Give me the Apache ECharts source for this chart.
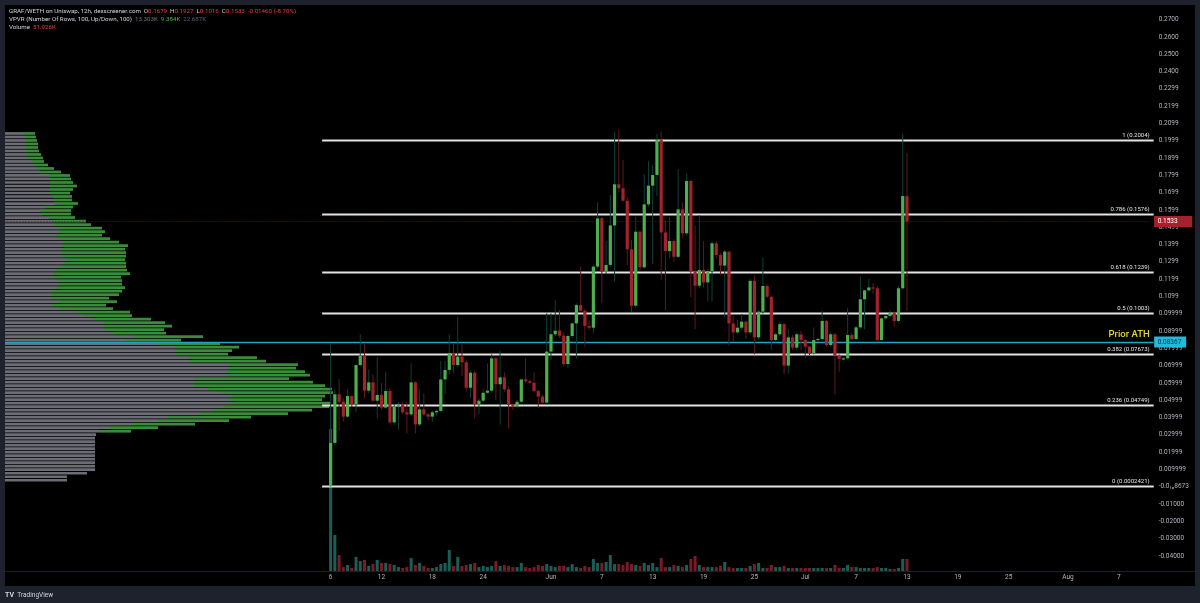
<!DOCTYPE html>
<html><head><meta charset="utf-8">
<script src="https://cdn.jsdelivr.net/npm/echarts@6/dist/echarts.min.js"></script>
<style>html,body{margin:0;padding:0;background:#1e222d;}#c{width:1200px;height:603px;}</style>
</head><body><div id="c"></div><script>
// ---- data ----
// candles (12h) starting 2024-05-06 00:00 : [open, high, low, close]
const candles = [
[0.0002,0.0829,0.0002,0.0253],[0.0253,0.0560,0.0240,0.0534],[0.0534,0.0622,0.0322,0.0491],[0.0491,0.0510,0.0376,0.0405],
[0.0405,0.0563,0.0400,0.0524],[0.0524,0.0530,0.0460,0.0476],[0.0476,0.0710,0.0430,0.0703],[0.0703,0.0881,0.0695,0.0757],
[0.0757,0.0829,0.0511,0.0555],[0.0555,0.0678,0.0540,0.0603],[0.0603,0.0650,0.0490,0.0497],[0.0497,0.0748,0.0395,0.0530],
[0.0530,0.0600,0.0445,0.0457],[0.0457,0.0665,0.0450,0.0553],[0.0553,0.0570,0.0360,0.0372],[0.0372,0.0480,0.0360,0.0463],
[0.0463,0.0490,0.0330,0.0476],[0.0476,0.0490,0.0420,0.0430],[0.0430,0.0490,0.0308,0.0418],[0.0418,0.0713,0.0410,0.0603],
[0.0603,0.0610,0.0308,0.0360],[0.0360,0.0565,0.0350,0.0447],[0.0447,0.0540,0.0410,0.0418],[0.0418,0.0425,0.0385,0.0405],
[0.0405,0.0440,0.0376,0.0430],[0.0430,0.0445,0.0410,0.0438],[0.0438,0.0727,0.0430,0.0620],[0.0620,0.0727,0.0535,0.0675],
[0.0675,0.0881,0.0650,0.0773],[0.0773,0.0829,0.0655,0.0703],[0.0703,0.0983,0.0690,0.0752],[0.0752,0.0829,0.0640,0.0719],
[0.0719,0.0730,0.0550,0.0572],[0.0572,0.0670,0.0511,0.0659],[0.0659,0.0670,0.0395,0.0476],[0.0476,0.0511,0.0420,0.0497],
[0.0497,0.0565,0.0490,0.0543],[0.0543,0.0713,0.0535,0.0555],[0.0555,0.0765,0.0545,0.0742],[0.0742,0.0750,0.0501,0.0592],
[0.0592,0.0784,0.0360,0.0632],[0.0632,0.0661,0.0550,0.0563],[0.0563,0.0580,0.0337,0.0472],[0.0476,0.0480,0.0445,0.0466],
[0.0466,0.0500,0.0455,0.0491],[0.0491,0.0625,0.0485,0.0620],[0.0620,0.0742,0.0600,0.0610],[0.0610,0.0620,0.0595,0.0601],
[0.0601,0.0661,0.0545,0.0553],[0.0553,0.0560,0.0453,0.0521],[0.0521,0.0530,0.0480,0.0486],[0.0486,0.1002,0.0480,0.0781],
[0.0781,0.1002,0.0733,0.0881],[0.0881,0.1079,0.0870,0.0902],[0.0902,0.1021,0.0860,0.0873],[0.0873,0.0890,0.0695,0.0709],
[0.0709,0.0881,0.0685,0.0871],[0.0871,0.0950,0.0860,0.0944],[0.0944,0.1060,0.0742,0.1050],[0.1050,0.1272,0.1040,0.1017],
[0.1017,0.1030,0.0809,0.0929],[0.0929,0.0960,0.0905,0.0919],[0.0919,0.1280,0.0886,0.1272],[0.1272,0.1644,0.1260,0.1551],
[0.1551,0.1560,0.1060,0.1243],[0.1243,0.1420,0.1230,0.1282],[0.1282,0.1686,0.1270,0.1510],[0.1510,0.2052,0.1185,0.1748],
[0.1748,0.2062,0.1700,0.1725],[0.1725,0.1890,0.1650,0.1653],[0.1653,0.1670,0.1280,0.1372],[0.1372,0.1426,0.1010,0.1046],
[0.1046,0.1560,0.1030,0.1474],[0.1474,0.1480,0.1250,0.1268],[0.1268,0.1806,0.1260,0.1632],[0.1632,0.1883,0.1620,0.1740],
[0.1740,0.1860,0.1287,0.1802],[0.1802,0.2040,0.1680,0.2004],[0.2004,0.2052,0.1195,0.1470],[0.1470,0.1540,0.1021,0.1362],
[0.1362,0.1560,0.1323,0.1420],[0.1420,0.1430,0.1300,0.1329],[0.1329,0.1836,0.1320,0.1603],[0.1603,0.1644,0.1440,0.1465],
[0.1465,0.1811,0.1450,0.1767],[0.1767,0.1775,0.1095,0.1243],[0.1243,0.1510,0.0911,0.1162],[0.1162,0.1570,0.1150,0.1253],
[0.1253,0.1420,0.1150,0.1181],[0.1181,0.1260,0.1070,0.1247],[0.1247,0.1420,0.1070,0.1407],[0.1407,0.1420,0.1320,0.1339],
[0.1339,0.1350,0.1225,0.1278],[0.1278,0.1370,0.0977,0.1359],[0.1359,0.1365,0.0815,0.0944],[0.0944,0.0985,0.0840,0.0892],
[0.0892,0.0965,0.0880,0.0919],[0.0919,0.0998,0.0905,0.0954],[0.0954,0.0960,0.0855,0.0892],[0.0892,0.1200,0.0880,0.1190],
[0.1190,0.1223,0.0765,0.0863],[0.0863,0.1020,0.0850,0.1012],[0.1012,0.1324,0.1000,0.1160],[0.1160,0.1170,0.1090,0.1098],
[0.1098,0.1105,0.0790,0.0848],[0.0848,0.0890,0.0835,0.0881],[0.0881,0.0955,0.0870,0.0940],[0.0940,0.0945,0.0650,0.0700],
[0.0700,0.0910,0.0655,0.0863],[0.0863,0.0877,0.0790,0.0804],[0.0804,0.0890,0.0790,0.0881],[0.0881,0.0900,0.0790,0.0848],
[0.0848,0.0855,0.0742,0.0810],[0.0810,0.0815,0.0760,0.0771],[0.0771,0.0920,0.0765,0.0848],[0.0848,0.0860,0.0840,0.0854],
[0.0854,0.1016,0.0845,0.0958],[0.0958,0.0965,0.0810,0.0819],[0.0819,0.0890,0.0810,0.0881],[0.0881,0.0890,0.0534,0.0757],
[0.0757,0.0765,0.0665,0.0738],[0.0738,0.0750,0.0730,0.0742],[0.0742,0.1035,0.0735,0.0877],[0.0877,0.0890,0.0845,0.0854],
[0.0854,0.0930,0.0845,0.0921],[0.0921,0.1214,0.0910,0.1083],[0.1083,0.1140,0.0910,0.1135],[0.1135,0.1200,0.1125,0.1152],
[0.1152,0.1175,0.1115,0.1147],[0.1147,0.1160,0.0840,0.0848],[0.0848,0.0980,0.0840,0.0973],[0.0973,0.0990,0.0965,0.0987],
[0.0987,0.1022,0.0980,0.1006],[0.1006,0.1012,0.0925,0.0958],[0.0958,0.1160,0.0950,0.1147],[0.1147,0.2042,0.1140,0.1680],
[0.1679,0.1927,0.1016,0.1533]
];
// volume per candle (K)
const volumes = [615,156,69,17,26,13,61,43,48,22,30,48,35,35,30,26,17,13,17,56,26,35,22,13,13,17,30,35,91,22,61,22,26,30,35,17,22,17,22,43,22,26,22,17,17,35,17,13,17,26,22,30,22,17,22,22,17,30,17,13,22,17,52,35,35,39,69,30,30,26,39,30,26,22,35,26,35,17,56,17,17,26,22,17,26,52,65,26,17,17,17,17,22,39,17,13,13,13,13,22,30,35,13,13,26,17,17,22,13,13,13,13,13,13,13,13,13,13,13,26,13,13,26,17,17,13,13,13,13,17,13,13,9,9,13,52,52];
// VPVR rows, top (0.205) to bottom (0.003)
const vpDown = [18,20,21,21,21,21,22,23,27,30,32,35,44,45,45,45,45,45,48,49,50,40,35,37,44,48,49,54,55,51,54,59,57,57,57,57,62,59,55,50,48,49,54,54,52,47,47,47,54,47,55,73,80,88,99,99,100,109,129,120,152,170,170,170,184,185,225,225,222,222,188,189,189,203,217,227,225,228,219,209,195,162,153,126,105,94,91,90,90,90,90,90,90,90,90,90,90,82,62,62];
const vpUp = [12,11,11,12,12,13,14,15,12,13,17,21,21,21,23,27,23,20,19,18,23,28,31,29,26,33,37,43,45,46,51,55,66,63,64,64,58,62,66,72,77,67,63,63,68,70,67,57,58,54,53,52,47,58,61,68,59,52,69,56,63,64,57,53,68,76,68,66,78,83,96,119,131,124,111,93,92,97,105,98,88,84,71,64,48,32,0,0,0,0,0,0,0,0,0,0,0,0,0,0];
// Fibonacci retracement
const fibRatios = ['1','0.786','0.618','0.5','0.382','0.236','0'];
const fibLevels = [0.2004,0.1576,0.1239,0.1003,0.07673,0.04749,0.0002421];
const fibLabels = ['0.2004','0.1576','0.1239','0.1003','0.07673','0.04749','0.0002421'];
const priorATH = 0.08367;
const lastPrice = 0.1533;
// price axis labels
const priceTickValues = [0.27,0.26,0.25,0.24,0.23,0.22,0.21,0.20,0.19,0.18,0.17,0.16,0.15,0.14,0.13,0.12,0.11,0.10,0.09,0.08,0.07,0.06,0.05,0.04,0.03,0.02,0.01,0,-0.01,-0.02,-0.03,-0.04];
const priceTickLabels = ['0.2700','0.2600','0.2500','0.2400','0.2299','0.2199','0.2099','0.1999','0.1899','0.1799','0.1699','0.1599','0.1499','0.1399','0.1299','0.1199','0.1099','0.09999','0.08999','0.07999','0.06999','0.05999','0.04999','0.03999','0.02999','0.01999','0.009999','-0.0\u2081\u20868673','-0.01000','-0.02000','-0.03000','-0.04000'];
// time axis labels
const timeTickDates = ['2024-05-06','2024-05-12','2024-05-18','2024-05-24','2024-06-01','2024-06-07','2024-06-13','2024-06-19','2024-06-25','2024-07-01','2024-07-07','2024-07-13','2024-07-19','2024-07-25','2024-08-01','2024-08-07'];
const timeTickLabels = ['6','12','18','24','Jun','7','13','19','25','Jul','7','13','19','25','Aug','7'];

// ---- build ----
const FIRST_SLOT = 76, N_SLOTS = 270;
const startMs = Date.UTC(2024,4,6) - FIRST_SLOT*12*3600*1000;
const cats = [];
for (let i=0;i<N_SLOTS;i++){ const d=new Date(startMs+i*12*3600*1000); cats.push(d.toISOString().slice(0,13)); }
const tickMap = {};
timeTickDates.forEach((d,i)=>{ tickMap[d+'T00'] = timeTickLabels[i]; });
const priceMap = {};
priceTickValues.forEach((v,i)=>{ priceMap[Math.round(v*100)] = priceTickLabels[i]; });

const candleData = candles.map((c,k)=>[FIRST_SLOT+k, c[0], c[1], c[2], c[3]]);
const volData = volumes.map((v,k)=>({value:[FIRST_SLOT+k, v], itemStyle:{color: candles[k][3]>=candles[k][0] ? '#1b5e56' : '#7a1c27'}}));

const FONT = 'Roboto, "DejaVu Sans", sans-serif';
const UP='#4caf50', DN='#a3222d', UPW='#0f3f37', DNW='#5e1a1f';

const chart = echarts.init(document.getElementById('c'), null, {renderer:'canvas'});
const gLeft = 6.4, gWidth = N_SLOTS*4.238;

chart.setOption({
  backgroundColor:'#1e222d',
  animation:false,
  graphic:[
    {type:'rect', z:-10, shape:{x:5,y:5,width:1190,height:581}, style:{fill:'#000000'}},
    {type:'line', z:-9, shape:{x1:5,y1:571.5,x2:1195,y2:571.5}, style:{stroke:'#1c1f26',lineWidth:1}},
    {type:'text', left:9, top:8, style:{text:'{w|GRAF/WETH on Uniswap, 12h, dexscreener.com}  {w|O}{r|0.1679}  {w|H}{r|0.1927}  {w|L}{r|0.1016}  {w|C}{r|0.1533}  {r|-0.01460 (-8.70%)}', rich:{w:{fill:'#d1d4dc',fontSize:6.2,fontFamily:FONT},r:{fill:'#f23645',fontSize:6.2,fontFamily:FONT}}, font:'6px '+FONT}},
    {type:'text', left:9, top:16, style:{text:'{w|VPVR (Number Of Rows, 100, Up/Down, 100)}  {d|13.303K}  {g|9.384K}  {d2|22.687K}', rich:{w:{fill:'#d1d4dc',fontSize:6.2,fontFamily:FONT},d:{fill:'#787b86',fontSize:6.2,fontFamily:FONT},g:{fill:'#4caf50',fontSize:6.2,fontFamily:FONT},d2:{fill:'#5d606b',fontSize:6.2,fontFamily:FONT}}, font:'6px '+FONT}},
    {type:'text', left:9, top:24, style:{text:'{w|Volume}  {r|51.926K}', rich:{w:{fill:'#d1d4dc',fontSize:6.2,fontFamily:FONT},r:{fill:'#f23645',fontSize:6.2,fontFamily:FONT}}, font:'6px '+FONT}},
    {type:'text', left:5, top:589, style:{text:'{b|TV} {t|TradingView}', rich:{b:{fill:'#d1d4dc',fontSize:7,fontWeight:'bold',fontFamily:FONT},t:{fill:'#d1d4dc',fontSize:6.5,fontFamily:FONT}}}}
  ],
  grid:[
    {left:gLeft, width:gWidth, top:2.3, height:570.9},
    {left:gLeft, width:gWidth, top:400, height:171},
    {left:5, width:330, top:131.7, height:350.3}
  ],
  xAxis:[
    {type:'category', gridIndex:0, data:cats, boundaryGap:true, axisLine:{show:false}, axisTick:{show:false}, splitLine:{show:false},
     axisLabel:{interval:(i,v)=>tickMap[v]!==undefined, formatter:v=>tickMap[v]||'', color:'#b2b5be', fontSize:6.5, fontFamily:FONT, margin:1}},
    {type:'category', gridIndex:1, data:cats, boundaryGap:true, show:false},
    {type:'value', gridIndex:2, min:0, max:330, show:false}
  ],
  yAxis:[
    {type:'value', gridIndex:0, position:'right', min:-0.05, max:0.28, interval:0.01, splitLine:{show:false}, axisLine:{show:false}, axisTick:{show:false},
     axisLabel:{formatter:v=>priceMap[Math.round(v*100)]||'', color:'#b2b5be', fontSize:6.5, fontFamily:FONT, margin:8}},
    {type:'value', gridIndex:1, min:0, max:740, show:false},
    {type:'category', gridIndex:2, data:vpDown.map((v,i)=>i), inverse:true, show:false}
  ],
  series:[
    {type:'bar', name:'vpDown', xAxisIndex:2, yAxisIndex:2, stack:'vp', data:vpDown, barCategoryGap:'22%', itemStyle:{color:'#6c6c74'}, z:1, silent:true},
    {type:'bar', name:'vpUp', xAxisIndex:2, yAxisIndex:2, stack:'vp', data:vpUp, barCategoryGap:'22%', itemStyle:{color:'#3a8c3a'}, z:1, silent:true},
    {type:'bar', name:'volume', xAxisIndex:1, yAxisIndex:1, data:volData, barWidth:3, z:2, silent:true},
    {type:'custom', name:'lastLine', xAxisIndex:0, yAxisIndex:0, data:[[0,lastPrice]], z:3, silent:true,
     renderItem:(p,api)=>{ const cs=p.coordSys; const y=api.coord([0,api.value(1)])[1];
       return {type:'line', shape:{x1:cs.x-2,y1:y,x2:cs.x+cs.width,y2:y}, style:{stroke:'#5a1a22',lineWidth:1,lineDash:[1,2]}}; }},
    {type:'custom', name:'fib', xAxisIndex:0, yAxisIndex:0, clip:false, z:5, silent:true,
     data:fibLevels.map((v,i)=>[74, v, i]),
     renderItem:(p,api)=>{ const cs=p.coordSys; const i=api.value(2); const pt=api.coord([api.value(0),api.value(1)]);
       const xe=cs.x+cs.width+3; const y=Math.round(pt[1])+0.5;
       return {type:'group', children:[
         {type:'line', shape:{x1:pt[0],y1:y,x2:xe,y2:y}, style:{stroke:'#e3e3e3',lineWidth:2}},
         {type:'text', style:{text:fibRatios[i]+' ('+fibLabels[i]+')', x:cs.x+cs.width-1, y:y-2.5, align:'right', verticalAlign:'bottom', fill:'#e6e6e6', font:'6px '+FONT}}
       ]}; }},
    {type:'custom', name:'ath', xAxisIndex:0, yAxisIndex:0, clip:false, z:6, silent:true, data:[[0,priorATH]],
     renderItem:(p,api)=>{ const cs=p.coordSys; const y=Math.round(api.coord([0,api.value(1)])[1])+0.5;
       return {type:'group', children:[
         {type:'line', shape:{x1:5,y1:y,x2:cs.x+cs.width+3,y2:y}, style:{stroke:'#1fa6c6',lineWidth:1.6}},
         {type:'text', style:{text:'Prior ATH', x:cs.x+cs.width-1, y:y-3, align:'right', verticalAlign:'bottom', fill:'#e8d632', font:'500 9.5px '+FONT}}
       ]}; }},
    {type:'custom', name:'candles', xAxisIndex:0, yAxisIndex:0, data:candleData, z:7, silent:true,
     encode:{x:0, y:[1,2,3,4]},
     renderItem:(p,api)=>{ const x=api.value(0), o=api.value(1), h=api.value(2), l=api.value(3), c=api.value(4);
       const pO=api.coord([x,o]), pC=api.coord([x,c]), pH=api.coord([x,h]), pL=api.coord([x,l]);
       const up=c>=o; const cx=pO[0]; let top=Math.min(pO[1],pC[1]), bot=Math.max(pO[1],pC[1]); if(bot-top<1.2) bot=top+1.2;
       return {type:'group', children:[
         {type:'line', shape:{x1:cx,y1:pH[1],x2:cx,y2:pL[1]}, style:{stroke:up?UPW:DNW,lineWidth:1}},
         {type:'rect', shape:{x:cx-1.6,y:top,width:3.2,height:bot-top}, style:{fill:up?UP:DN}}
       ]}; }},
    {type:'custom', name:'tags', xAxisIndex:0, yAxisIndex:0, clip:false, z:10, silent:true,
     data:[[0,lastPrice,0],[0,priorATH,1]],
     renderItem:(p,api)=>{ const cs=p.coordSys; const y=api.coord([0,api.value(1)])[1]; const k=api.value(2);
       const txt = k===0 ? '0.1533' : '0.08367';
       return {type:'group', children:[
         {type:'rect', shape:{x:cs.x+cs.width+3.5,y:y-5.5,width:k===0?38:32,height:11}, style:{fill:k===0?'#a8202e':'#22b9dc'}},
         {type:'text', style:{text:txt, x:cs.x+cs.width+7, y:y, verticalAlign:'middle', fill:k===0?'#ffffff':'#0d2d3f', font:'6.5px '+FONT}}
       ]}; }}
  ]
});
</script></body></html>
